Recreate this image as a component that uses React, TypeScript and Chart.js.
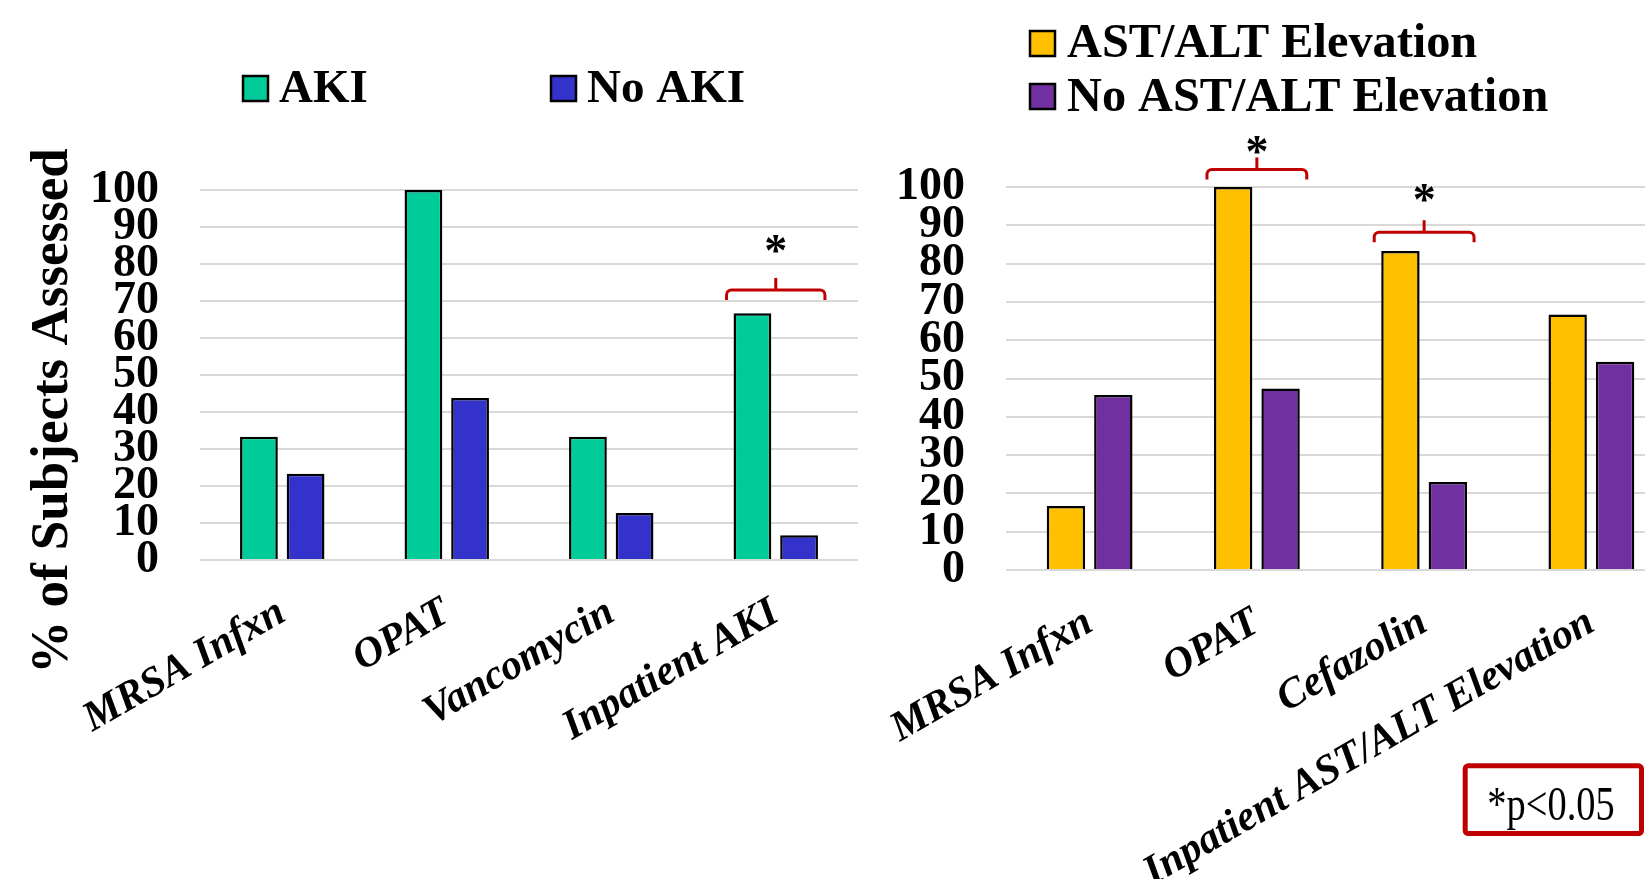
import React, { useEffect, useRef } from "react";
import { Chart, registerables } from "chart.js";

Chart.register(...registerables);

const FONT = "'Liberation Serif', 'Times New Roman', Times, serif";

// ---------- data ----------
const leftCategories = ["MRSA Infxn", "OPAT", "Vancomycin", "Inpatient AKI"];
const leftSeriesLabels = ["AKI", "No AKI"];
const akiValues = [33.3, 100, 33.3, 66.7];
const noAkiValues = [23.3, 43.8, 12.7, 6.7];

const rightCategories = ["MRSA Infxn", "OPAT", "Cefazolin", "Inpatient AST/ALT Elevation"];
const rightSeriesLabels = ["AST/ALT Elevation", "No AST/ALT Elevation"];
const astAltValues = [16.7, 100, 83.3, 66.7];
const noAstAltValues = [45.7, 47.4, 23.0, 54.4];

const yTickValues = [0, 10, 20, 30, 40, 50, 60, 70, 80, 90, 100];

// significance brackets: category index, bracket level and asterisk level (axis units)
const leftSignificance = [{ index: 3, bracket: 73.0, star: 85.5 }];
const rightSignificance = [
  { index: 1, bracket: 104.6, star: 111.0 },
  { index: 2, bracket: 88.2, star: 98.5 },
];

const yAxisTitle = "% of Subjects Assessed";
const noteText = "*p<0.05";

// ---------- styles ----------
const COLORS = {
  aki: "#00CC99",
  noAki: "#3333CC",
  ast: "#FFC000",
  noAst: "#7030A0",
  grid: "#D9D9D9",
  red: "#C00000",
};

const H = 879;

type Extras = {
  legend: { x: number; y: number; baseline: number }[];
  legendSize: number;
  legendGap: number;
  legendFont: number;
  sig: { index: number; bracket: number; star: number }[];
  title?: { text: string; x: number; y: number; size: number };
  note?: { text: string; x: number; y: number; w: number; h: number; tx: number; ty: number };
};

function makeExtras(cfg: Extras) {
  return {
    id: "extras",
    afterDraw(chart: any) {
      const ctx: CanvasRenderingContext2D = chart.ctx;
      // legend
      chart.data.datasets.forEach((ds: any, i: number) => {
        const p = cfg.legend[i];
        if (!p) return;
        ctx.save();
        ctx.fillStyle = ds.backgroundColor;
        ctx.fillRect(p.x, p.y, cfg.legendSize, cfg.legendSize);
        ctx.lineWidth = 2.5;
        ctx.strokeStyle = "#000";
        ctx.strokeRect(p.x, p.y, cfg.legendSize, cfg.legendSize);
        ctx.fillStyle = "#000";
        ctx.font = `bold ${cfg.legendFont}px ${FONT}`;
        ctx.textAlign = "left";
        ctx.textBaseline = "alphabetic";
        ctx.fillText(ds.label, p.x + cfg.legendGap, p.baseline);
        ctx.restore();
      });
      // significance brackets
      const ys = chart.scales.y;
      const m0 = chart.getDatasetMeta(0);
      const m1 = chart.getDatasetMeta(1);
      cfg.sig.forEach((s) => {
        const b0: any = m0.data[s.index];
        const b1: any = m1.data[s.index];
        const x1 = b0.x - b0.width / 2 - 7;
        const x2 = b1.x + b1.width / 2 + 7;
        const cx = (x1 + x2) / 2;
        const yl = ys.getPixelForValue(s.bracket);
        const drop = 10;
        const tick = 12;
        const r = 5;
        ctx.save();
        ctx.strokeStyle = COLORS.red;
        ctx.lineWidth = 3;
        ctx.lineJoin = "round";
        ctx.beginPath();
        ctx.moveTo(x1, yl + drop);
        ctx.arcTo(x1, yl, x1 + r, yl, r);
        ctx.lineTo(x2 - r, yl);
        ctx.arcTo(x2, yl, x2, yl + r, r);
        ctx.lineTo(x2, yl + drop);
        ctx.stroke();
        ctx.beginPath();
        ctx.moveTo(cx, yl);
        ctx.lineTo(cx, yl - tick);
        ctx.stroke();
        const sy = ys.getPixelForValue(s.star);
        ctx.fillStyle = "#000";
        ctx.font = `bold 46px ${FONT}`;
        ctx.textAlign = "center";
        ctx.textBaseline = "alphabetic";
        ctx.fillText("*", cx, sy + 0.48 * 46);
        ctx.restore();
      });
      // axis title
      if (cfg.title) {
        const t = cfg.title;
        ctx.save();
        ctx.translate(t.x, t.y);
        ctx.rotate(-Math.PI / 2);
        ctx.fillStyle = "#000";
        ctx.font = `bold ${t.size}px ${FONT}`;
        ctx.textAlign = "center";
        ctx.textBaseline = "middle";
        ctx.fillText(t.text, 0, 0);
        ctx.restore();
      }
      // note box
      if (cfg.note) {
        const n = cfg.note;
        ctx.save();
        ctx.strokeStyle = COLORS.red;
        ctx.lineWidth = 5;
        ctx.lineJoin = "round";
        ctx.beginPath();
        ctx.roundRect(n.x, n.y, n.w, n.h, 3);
        ctx.stroke();
        ctx.fillStyle = "#000";
        ctx.font = `48px ${FONT}`;
        ctx.textAlign = "center";
        ctx.textBaseline = "alphabetic";
        ctx.translate(n.tx, n.ty);
        ctx.scale(0.8, 1);
        ctx.fillText(n.text, 0, 0);
        ctx.restore();
      }
    },
  };
}

function buildConfig(opts: {
  categories: string[];
  labels: string[];
  values: number[][];
  colors: string[];
  yWidth: number;
  xHeight: number;
  padTop: number;
  padRight: number;
  extras: Extras;
}) {
  return {
    type: "bar" as const,
    data: {
      labels: opts.categories,
      datasets: opts.values.map((v, i) => ({
        label: opts.labels[i],
        data: v,
        backgroundColor: opts.colors[i],
        borderColor: "#000",
        borderWidth: 2.5,
        categoryPercentage: 0.567,
        barPercentage: 0.81,
      })),
    },
    options: {
      responsive: false,
      animation: false as const,
      devicePixelRatio: 1,
      layout: { padding: { top: opts.padTop, right: opts.padRight, bottom: 0, left: 0 } },
      plugins: {
        legend: { display: false },
        tooltip: { enabled: false },
        title: { display: false },
      },
      scales: {
        x: {
          type: "category" as const,
          grid: { display: false },
          border: { display: false },
          ticks: {
            color: "#000",
            font: { family: FONT, size: 42, weight: "bold" as const, style: "italic" as const },
            maxRotation: 30,
            minRotation: 30,
            padding: 20,
            autoSkip: false,
          },
          afterFit: (s: any) => {
            s.height = opts.xHeight;
            s.paddingLeft = 0;
            s.paddingRight = 0;
          },
        },
        y: {
          type: "linear" as const,
          min: 0,
          max: 100,
          grid: { color: COLORS.grid, lineWidth: 2, drawTicks: false },
          border: { display: false },
          ticks: {
            color: "#000",
            font: { family: FONT, size: 46, weight: "bold" as const },
            padding: 41,
            autoSkip: false,
            stepSize: 10,
          },
          afterBuildTicks: (s: any) => {
            s.ticks = yTickValues.map((v) => ({ value: v }));
          },
          afterFit: (s: any) => {
            s.width = opts.yWidth;
            s.paddingTop = 0;
            s.paddingBottom = 0;
          },
        },
      },
    },
    plugins: [makeExtras(opts.extras)],
  };
}

const LEFT_W = 880;
const RIGHT_LEFT = 870;
const RIGHT_W = 830;

export default function App() {
  const leftRef = useRef<HTMLCanvasElement | null>(null);
  const rightRef = useRef<HTMLCanvasElement | null>(null);

  useEffect(() => {
    const left = new Chart(
      leftRef.current as HTMLCanvasElement,
      buildConfig({
        categories: leftCategories,
        labels: leftSeriesLabels,
        values: [akiValues, noAkiValues],
        colors: [COLORS.aki, COLORS.noAki],
        yWidth: 200,
        xHeight: H - 560,
        padTop: 190,
        padRight: LEFT_W - 858,
        extras: {
          legend: [
            { x: 243, y: 76, baseline: 102 },
            { x: 551, y: 76, baseline: 102 },
          ],
          legendSize: 25,
          legendGap: 36,
          legendFont: 47,
          sig: leftSignificance,
          title: { text: yAxisTitle, x: 53, y: 411, size: 53 },
        },
      }) as any
    );
    const right = new Chart(
      rightRef.current as HTMLCanvasElement,
      buildConfig({
        categories: rightCategories,
        labels: rightSeriesLabels,
        values: [astAltValues, noAstAltValues],
        colors: [COLORS.ast, COLORS.noAst],
        yWidth: 1006 - RIGHT_LEFT,
        xHeight: H - 570,
        padTop: 187,
        padRight: RIGHT_W - (1675 - RIGHT_LEFT),
        extras: {
          legend: [
            { x: 1030 - RIGHT_LEFT, y: 31, baseline: 57 },
            { x: 1030 - RIGHT_LEFT, y: 84, baseline: 111 },
          ],
          legendSize: 25,
          legendGap: 37,
          legendFont: 48.3,
          sig: rightSignificance,
          note: {
            text: noteText,
            x: 1465.2 - RIGHT_LEFT,
            y: 765.8,
            w: 176.3,
            h: 67.7,
            tx: 1551 - RIGHT_LEFT,
            ty: 820,
          },
        },
      }) as any
    );
    return () => {
      left.destroy();
      right.destroy();
    };
  }, []);

  return (
    <div
      style={{
        position: "fixed",
        left: 0,
        top: 0,
        width: 1645,
        height: H,
        overflow: "hidden",
        background: "#fff",
      }}
    >
      <canvas
        ref={leftRef}
        width={LEFT_W}
        height={H}
        style={{ position: "absolute", left: 0, top: 0, width: LEFT_W, height: H }}
      />
      <canvas
        ref={rightRef}
        width={RIGHT_W}
        height={H}
        style={{ position: "absolute", left: RIGHT_LEFT, top: 0, width: RIGHT_W, height: H }}
      />
    </div>
  );
}
